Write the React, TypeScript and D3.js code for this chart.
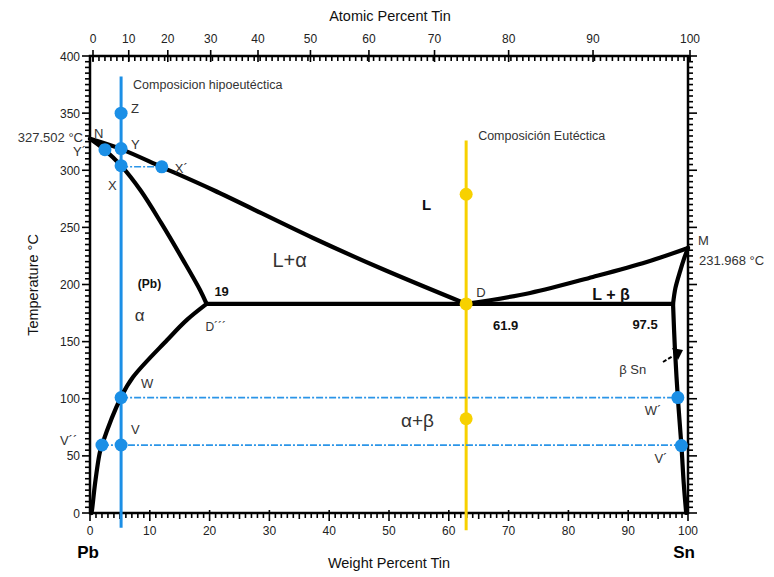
import { useEffect, useRef } from 'react'
import * as d3 from 'd3'

const WIDTH = 774
const HEIGHT = 577
const FONT = '"Liberation Sans", Arial, Helvetica, sans-serif'

// axis ticks
const wtTicks = [0, 10, 20, 30, 40, 50, 60, 70, 80, 90, 100]
const atTicks = [0, 10, 20, 30, 40, 50, 60, 70, 80, 90, 100]
const tempTicks = [0, 50, 100, 150, 200, 250, 300, 350, 400]

// phase boundaries, [wt% Sn, °C]
const liquidusPb: [number, number][] = [[0, 327.5], [5.2, 318.5], [12, 302.8], [20.6, 282.7], [37.3, 240.7], [48.5, 214.4], [62.9, 183]]
const solidusPb: [number, number][] = [[0, 327.5], [2.5, 317.7], [5.2, 304], [8.5, 282], [12, 253], [15.5, 222], [18.4, 195.2], [19.5, 183]]
const solvusPb: [number, number][] = [[19.5, 183], [16.2, 169], [12.9, 151.4], [7.2, 119], [5.2, 101.5], [2.0, 59.5], [1.6, 52], [0.85, 26], [0.35, 3], [0.25, 0]]
const eutecticLine: [number, number][] = [[19.5, 183], [97.5, 183]]
const liquidusSn: [number, number][] = [[62.9, 183], [73.6, 192.6], [84.1, 206.6], [93.1, 219.7], [100, 232]]
const solidusSn: [number, number][] = [[100, 232], [99.3, 222], [98.7, 212], [97.9, 197], [97.5, 183]]
const solvusSn: [number, number][] = [[97.5, 183], [97.8, 145], [98.3, 101], [98.9, 59], [99.3, 25], [99.7, 0]]

// compositions followed during cooling
const hypoWt = 5.2
const hypoRange = [-13, 382]
const eutWt = 62.9
const eutRange = [-15, 326]

// tie lines (dash-dot), [wtFrom, wtTo, °C]
const tieLines: [number, number, number][] = [[5.2, 12, 303], [5.2, 98.3, 101], [2.0, 98.9, 59.4]]

// blue points on the hypoeutectic path
const bluePoints: [number, number][] = [[5.2, 350], [5.2, 319], [2.5, 318], [5.2, 304], [12, 303], [5.2, 101], [98.3, 101], [5.2, 59.5], [2.0, 59.5], [98.9, 59]]
const yellowPoints: [number, number][] = [[62.9, 279], [62.9, 183], [62.9, 82.5]]

// annotations: text, wt%, °C, dx, dy, size, weight, anchor
type Note = [string, number, number, number, number, number, string, string]
const notes: Note[] = [
  ['Composicion hipoeutéctica', 5.2, 382, 12, 9, 12.5, 'normal', 'start'],
  ['Z', 5.2, 350, 10, -4, 13, 'normal', 'start'],
  ['N', 0, 327.5, 4, -4, 13, 'normal', 'start'],
  ['Y', 5.2, 319, 10, -3, 13, 'normal', 'start'],
  ['Y´', 0, 318, -4, 3, 13, 'normal', 'end'],
  ['327.502 °C', 0, 327.5, -7, 0, 13, 'normal', 'end'],
  ['X', 5.2, 304, -13, 21, 13, 'normal', 'start'],
  ['X´', 12, 303, 13, 3, 13, 'normal', 'start'],
  ['(Pb)', 8, 200, 0, 0, 12, 'bold', 'start'],
  ['α', 7.5, 172, 0, 0, 17, 'normal', 'start'],
  ['19', 20.8, 193, 0, 0, 13, 'bold', 'start'],
  ['D´´´', 19.3, 162, 0, 0, 12, 'normal', 'start'],
  ['L+α', 30.5, 220, 0, 0, 20, 'normal', 'start'],
  ['L', 55.5, 269, 0, 0, 15, 'bold', 'start'],
  ['Composición Eutéctica', 62.9, 326, 12, -4, 12.5, 'normal', 'start'],
  ['D', 62.9, 183, 10, -10, 13, 'normal', 'start'],
  ['61.9', 67.4, 163, 0, 0, 13, 'bold', 'start'],
  ['L + β', 84, 190, 0, 0, 16, 'bold', 'start'],
  ['97.5', 90.7, 164, 0, 0, 13, 'bold', 'start'],
  ['M', 100, 232, 10, -6, 13, 'normal', 'start'],
  ['231.968 °C', 100, 232, 11, 14, 13, 'normal', 'start'],
  ['β Sn', 88.5, 125, 0, 0, 13, 'normal', 'start'],
  ['W', 5.2, 101, 20, -13, 13, 'normal', 'start'],
  ['V', 5.2, 59.5, 10, -14, 13, 'normal', 'start'],
  ['V´´', 2.0, 59.5, -42, -3, 13, 'normal', 'start'],
  ['W´', 98.3, 101, -33, 14, 13, 'normal', 'start'],
  ['V´', 98.9, 59, -27, 14, 13, 'normal', 'start'],
  ['α+β', 52, 80, 0, 0, 19, 'normal', 'start'],
]

const atToWt = (a: number) => (a * 118.71) / (a * 118.71 + (100 - a) * 207.2) * 100

export default function App() {
  const svgRef = useRef<SVGSVGElement>(null)

  useEffect(() => {
    if (!svgRef.current) return
    const svg = d3.select(svgRef.current)
    svg.selectAll('*').remove()

    const x = d3.scaleLinear().domain([0, 100]).range([90, 688])
    const xTop = d3.scaleLinear().domain([0, 100]).range([93, 690])
    const y = d3.scaleLinear().domain([0, 400]).range([513, 56])

    const g = svg.append('g').attr('font-family', FONT)

    // frame
    g.append('rect')
      .attr('x', x(0)).attr('y', y(400))
      .attr('width', x(100) - x(0)).attr('height', y(0) - y(400))
      .attr('fill', 'none').attr('stroke', '#000').attr('stroke-width', 2.5)

    const ticks = g.append('g').attr('stroke', '#000').attr('stroke-width', 1.6)

    // bottom axis
    d3.range(0, 101, 1).forEach((v) => {
      const major = v % 10 === 0
      ticks.append('line')
        .attr('x1', x(v)).attr('x2', x(v))
        .attr('y1', y(0) - (major ? 3 : 0)).attr('y2', y(0) + (major ? 8 : v % 5 === 0 ? 6 : 5))
    })
    g.append('g').selectAll('text').data(wtTicks).join('text')
      .attr('x', (d) => x(d)).attr('y', 535)
      .attr('text-anchor', 'middle').attr('font-size', 12).attr('fill', '#222')
      .text((d) => d)

    // top axis: atomic percent labels, ruler ticks
    d3.range(0, 101, 1).forEach((v) => {
      ticks.append('line')
        .attr('x1', xTop(v)).attr('x2', xTop(v))
        .attr('y1', y(400)).attr('y2', y(400) + 5)
    })
    atTicks.forEach((a) => {
      const px = xTop(atToWt(a))
      ticks.append('line').attr('x1', px).attr('x2', px).attr('y1', y(400) - 6).attr('y2', y(400) + 6)
    })
    g.append('g').selectAll('text').data(atTicks).join('text')
      .attr('x', (d) => xTop(atToWt(d))).attr('y', 43)
      .attr('text-anchor', 'middle').attr('font-size', 12).attr('fill', '#222')
      .text((d) => d)

    // left and right axes
    d3.range(0, 401, 5).forEach((v) => {
      const major = v % 50 === 0
      ticks.append('line')
        .attr('x1', x(0) - (major ? 8 : 5)).attr('x2', x(0))
        .attr('y1', y(v)).attr('y2', y(v))
      ticks.append('line')
        .attr('x1', x(100)).attr('x2', x(100) + (major ? 9 : 5))
        .attr('y1', y(v)).attr('y2', y(v))
    })
    g.append('g').selectAll('text').data(tempTicks).join('text')
      .attr('x', 80).attr('y', (d) => y(d) + 4.5)
      .attr('text-anchor', 'end').attr('font-size', 12).attr('fill', '#222')
      .text((d) => d)

    // axis titles
    g.append('text').attr('x', 390).attr('y', 21).attr('text-anchor', 'middle')
      .attr('font-size', 14.5).attr('fill', '#111').text('Atomic Percent Tin')
    g.append('text').attr('x', 389).attr('y', 568).attr('text-anchor', 'middle')
      .attr('font-size', 14.5).attr('fill', '#111').text('Weight Percent Tin')
    g.append('text').attr('transform', 'translate(38,285) rotate(-90)').attr('text-anchor', 'middle')
      .attr('font-size', 14.5).attr('fill', '#111').text('Temperature °C')
    g.append('text').attr('x', x(0) - 2).attr('y', 558).attr('text-anchor', 'middle')
      .attr('font-size', 17).attr('font-weight', 'bold').text('Pb')
    g.append('text').attr('x', x(100) - 4).attr('y', 558).attr('text-anchor', 'middle')
      .attr('font-size', 17).attr('font-weight', 'bold').text('Sn')

    // composition lines
    g.append('line')
      .attr('x1', x(hypoWt)).attr('x2', x(hypoWt))
      .attr('y1', y(hypoRange[0])).attr('y2', y(hypoRange[1]))
      .attr('stroke', '#1b8fe6').attr('stroke-width', 3)
    g.append('line')
      .attr('x1', x(eutWt)).attr('x2', x(eutWt))
      .attr('y1', y(eutRange[0])).attr('y2', y(eutRange[1]))
      .attr('stroke', '#f7d100').attr('stroke-width', 3)

    // tie lines
    g.append('g').selectAll('line').data(tieLines).join('line')
      .attr('x1', (d) => x(d[0])).attr('x2', (d) => x(d[1]))
      .attr('y1', (d) => y(d[2])).attr('y2', (d) => y(d[2]))
      .attr('stroke', '#2b95e8').attr('stroke-width', 1.6)
      .attr('stroke-dasharray', '7,2,2,2')

    // phase boundaries
    const line = d3.line<[number, number]>()
      .x((d) => x(d[0])).y((d) => y(d[1]))
      .curve(d3.curveCatmullRom.alpha(0.5))
    const bounds = [liquidusPb, solidusPb, solvusPb, eutecticLine, liquidusSn, solidusSn, solvusSn]
    g.append('g').selectAll('path').data(bounds).join('path')
      .attr('d', (d) => line(d))
      .attr('fill', 'none').attr('stroke', '#000').attr('stroke-width', 4.2)
      .attr('stroke-linejoin', 'round').attr('stroke-linecap', 'round')

    // beta Sn pointer
    g.append('line')
      .attr('x1', 663).attr('y1', 362).attr('x2', 673).attr('y2', 356)
      .attr('stroke', '#000').attr('stroke-width', 2).attr('stroke-dasharray', '4,2')
    g.append('path')
      .attr('d', 'M672,348 L683,350 L678,360 Z').attr('fill', '#000')

    // points
    g.append('g').selectAll('circle').data(bluePoints).join('circle')
      .attr('cx', (d) => x(d[0])).attr('cy', (d) => y(d[1])).attr('r', 6.5)
      .attr('fill', '#1b8fe6')
    g.append('g').selectAll('circle').data(yellowPoints).join('circle')
      .attr('cx', (d) => x(d[0])).attr('cy', (d) => y(d[1])).attr('r', 6.5)
      .attr('fill', '#f7d100')

    // annotations
    g.append('g').selectAll('text').data(notes).join('text')
      .attr('x', (d) => x(d[1]) + d[3])
      .attr('y', (d) => y(d[2]) + d[4])
      .attr('font-size', (d) => d[5])
      .attr('font-weight', (d) => d[6])
      .attr('text-anchor', (d) => d[7])
      .attr('dominant-baseline', 'middle')
      .attr('fill', (d) => (d[6] === 'bold' ? '#111' : '#333'))
      .text((d) => d[0])
  }, [])

  return (
    <div style={{ position: 'absolute', left: 0, top: 0, background: '#fff' }}>
      <svg ref={svgRef} width={WIDTH} height={HEIGHT} />
    </div>
  )
}
